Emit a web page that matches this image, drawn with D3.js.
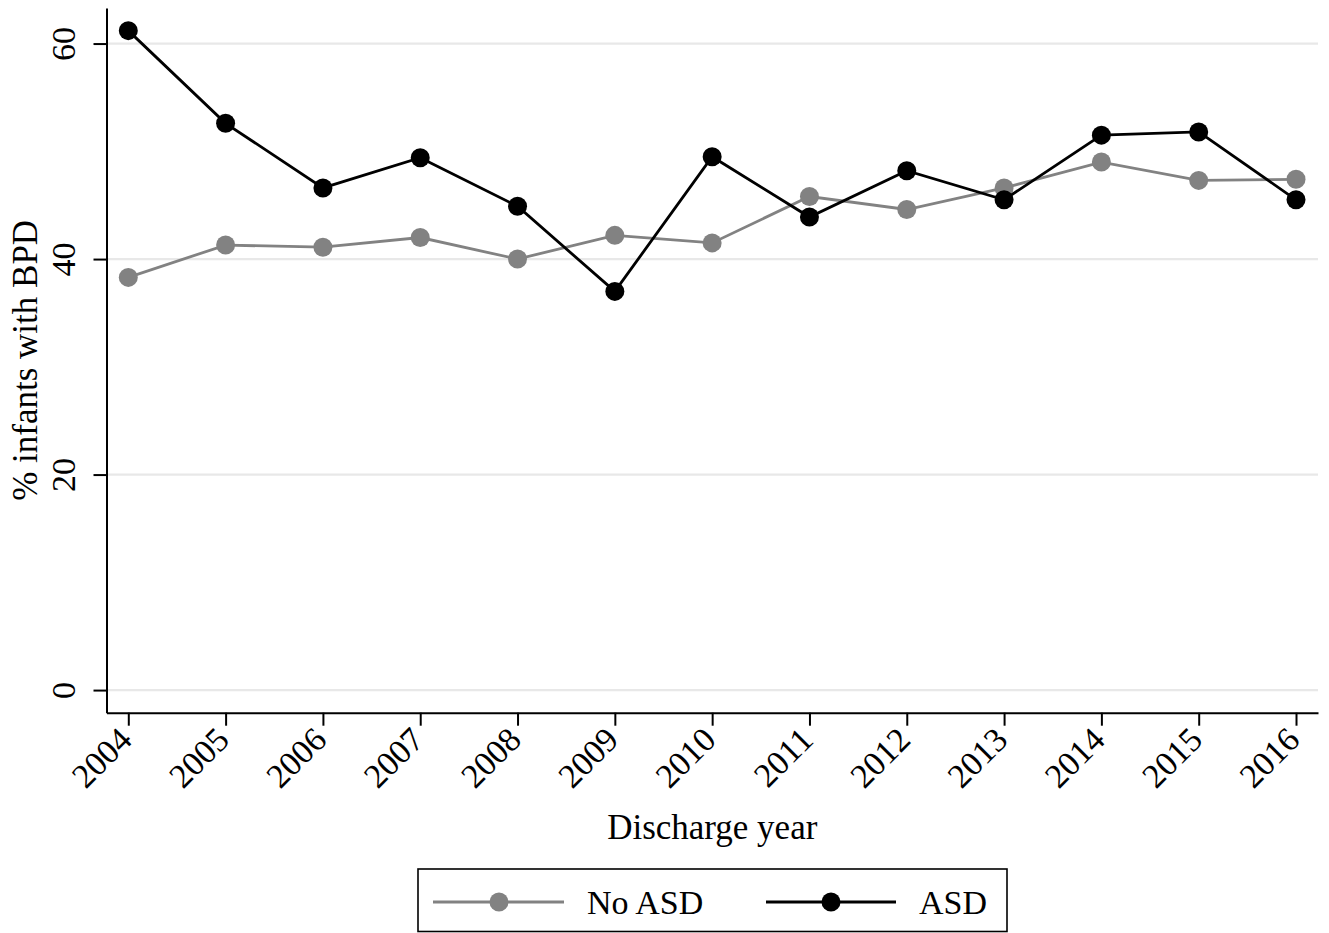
<!DOCTYPE html>
<html>
<head>
<meta charset="utf-8">
<script src="https://cdn.jsdelivr.net/npm/d3@7"></script>
<style>
  body { margin: 0; background: #fff; }
  svg text { font-family: "Liberation Serif", "Times New Roman", serif; fill: #000; }
</style>
</head>
<body>
<div id="chart"></div>
<script>
var years = [2004, 2005, 2006, 2007, 2008, 2009, 2010, 2011, 2012, 2013, 2014, 2015, 2016];
var noAsd = [38.3, 41.3, 41.1, 42.0, 40.0, 42.2, 41.5, 45.8, 44.6, 46.6, 49.0, 47.3, 47.4];
var asd = [61.2, 52.6, 46.6, 49.4, 44.9, 37.0, 49.5, 43.9, 48.2, 45.5, 51.5, 51.8, 45.5];
var yTicks = [0, 20, 40, 60];
var seriesNames = ["No ASD", "ASD"];

var svgWidth = 1329;
var svgHeight = 933;

var plot = { left: 106.5, right: 1318, top: 8, bottom: 712.7 };

var svg = d3.select("#chart")
  .append("svg")
  .attr("width", svgWidth)
  .attr("height", svgHeight);

// scales padded so the axis lines run past the first / last data point
var x = d3.scaleLinear()
  .domain([2003.776, 2016.226])
  .range([plot.left, plot.right]);

var y = d3.scaleLinear()
  .domain([-2.1, 63.3])
  .range([plot.bottom, plot.top]);

// gridlines
svg.append("g")
  .selectAll("line")
  .data(yTicks)
  .enter()
  .append("line")
  .attr("x1", plot.left)
  .attr("x2", plot.right)
  .attr("y1", d => y(d))
  .attr("y2", d => y(d))
  .attr("stroke", "#e8e8e8")
  .attr("stroke-width", 2.2);

// y axis
var yAxis = svg.append("g")
  .attr("transform", `translate(${plot.left},0)`)
  .call(d3.axisLeft(y).tickValues(yTicks).tickSize(13).tickSizeOuter(0));

yAxis.select(".domain").attr("stroke", "#000").attr("stroke-width", 2);
yAxis.selectAll(".tick line").attr("stroke", "#000").attr("stroke-width", 2);
yAxis.selectAll(".tick text")
  .attr("transform", "rotate(-90)")
  .attr("x", 0)
  .attr("y", -31.5)
  .attr("dy", 0)
  .attr("text-anchor", "middle")
  .attr("font-size", 34)
  .attr("font-family", "Liberation Serif");

// x axis
var xAxis = svg.append("g")
  .attr("transform", `translate(0,${plot.bottom})`)
  .call(d3.axisBottom(x).tickValues(years).tickFormat(d3.format("d")).tickSize(13).tickSizeOuter(0));

xAxis.select(".domain").attr("stroke", "#000").attr("stroke-width", 2);
xAxis.selectAll(".tick line").attr("stroke", "#000").attr("stroke-width", 2);
xAxis.selectAll(".tick text")
  .attr("transform", "translate(5,29) rotate(-45)")
  .attr("x", 0)
  .attr("y", 0)
  .attr("dy", 0)
  .attr("text-anchor", "end")
  .attr("font-size", 34)
  .attr("font-family", "Liberation Serif");

// axis titles
svg.append("text")
  .attr("x", (plot.left + plot.right) / 2)
  .attr("y", 839)
  .attr("text-anchor", "middle")
  .attr("font-size", 35)
  .text("Discharge year");

svg.append("text")
  .attr("transform", `translate(37,${(plot.top + plot.bottom) / 2}) rotate(-90)`)
  .attr("text-anchor", "middle")
  .attr("font-size", 35)
  .text("% infants with BPD");

// series
var series = [
  { name: seriesNames[0], values: noAsd, color: "#828282" },
  { name: seriesNames[1], values: asd, color: "#000000" }
];

var line = d3.line()
  .x((d, i) => x(years[i]))
  .y(d => y(d));

series.forEach(function(s) {
  svg.append("path")
    .datum(s.values)
    .attr("fill", "none")
    .attr("stroke", s.color)
    .attr("stroke-width", 2.8)
    .attr("d", line);

  svg.append("g")
    .selectAll("circle")
    .data(s.values)
    .enter()
    .append("circle")
    .attr("cx", (d, i) => x(years[i]))
    .attr("cy", d => y(d))
    .attr("r", 9.5)
    .attr("fill", s.color);
});

// legend
var legend = svg.append("g");

legend.append("rect")
  .attr("x", 418)
  .attr("y", 869)
  .attr("width", 589)
  .attr("height", 62.5)
  .attr("fill", "#fff")
  .attr("stroke", "#000")
  .attr("stroke-width", 1.6);

var legendItems = [
  { x0: 433, x1: 564, cx: 499, tx: 587 },
  { x0: 766, x1: 896, cx: 831, tx: 919 }
];

legendItems.forEach(function(item, i) {
  var s = series[i];
  legend.append("line")
    .attr("x1", item.x0)
    .attr("x2", item.x1)
    .attr("y1", 902)
    .attr("y2", 902)
    .attr("stroke", s.color)
    .attr("stroke-width", 2.8);
  legend.append("circle")
    .attr("cx", item.cx)
    .attr("cy", 902)
    .attr("r", 9.5)
    .attr("fill", s.color);
  legend.append("text")
    .attr("x", item.tx)
    .attr("y", 914)
    .attr("font-size", 34)
    .text(s.name);
});
</script>
</body>
</html>
